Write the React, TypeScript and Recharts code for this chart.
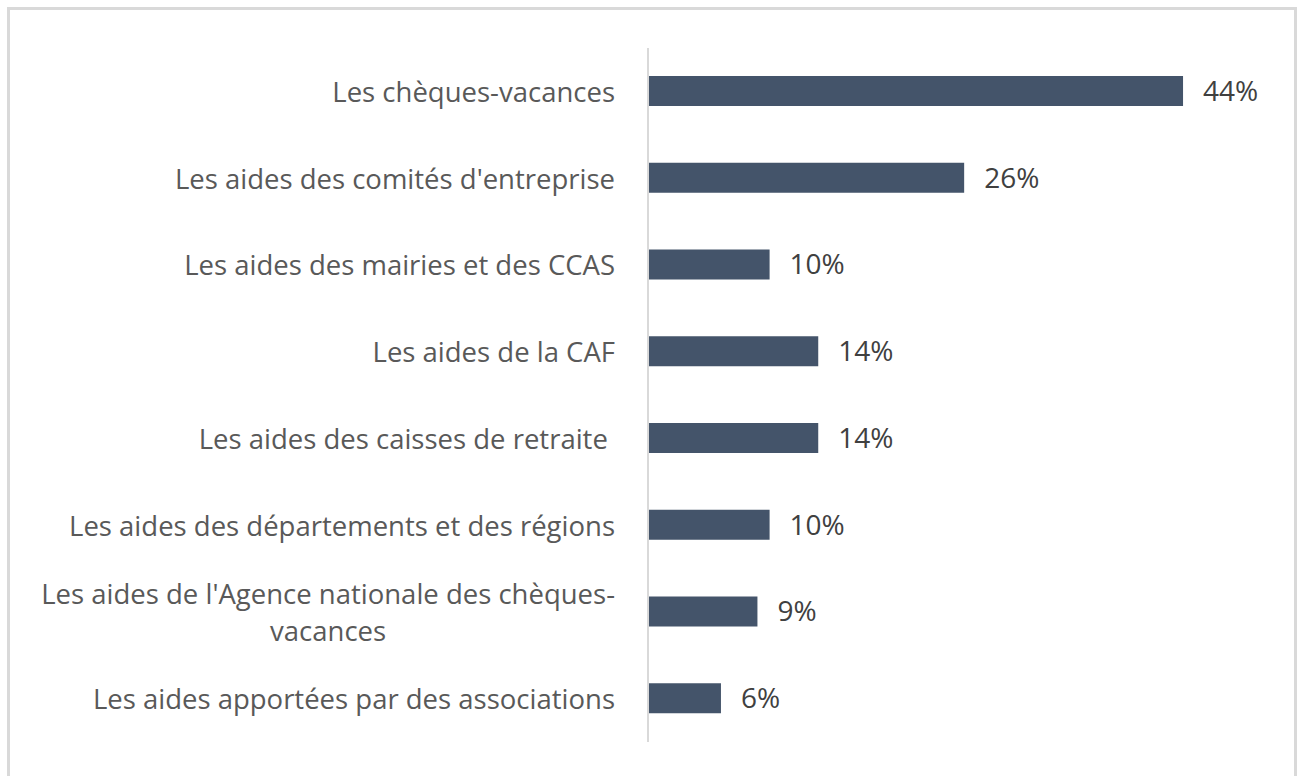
import { BarChart, Bar, XAxis, YAxis, LabelList } from 'recharts';

const categories = [
  'Les chèques-vacances',
  "Les aides des comités d'entreprise",
  'Les aides des mairies et des CCAS',
  'Les aides de la CAF',
  'Les aides des caisses de retraite ',
  'Les aides des départements et des régions',
  "Les aides de l'Agence nationale des chèques-\nvacances",
  'Les aides apportées par des associations',
];

const shares = [44, 26, 10, 14, 14, 10, 9, 6];

const data = categories.map((name, i) => ({ name, value: shares[i] }));

const FONT = '"Open Sans", Lato, sans-serif';

function CategoryTick(props: any) {
  const { x, y, payload } = props;
  const lines = String(payload.value).split('\n');
  const lineHeight = 37;
  return (
    <foreignObject x={x - 640} y={y - 40} width={640} height={80}>
      <div
        style={{
          width: 640,
          height: 80,
          display: 'flex',
          justifyContent: 'flex-end',
          alignItems: 'center',
        }}
      >
        <div
          style={{
            textAlign: 'center',
            fontFamily: FONT,
            fontSize: 27.5,
            lineHeight: `${lineHeight}px`,
            color: '#595959',
            whiteSpace: 'pre',
          }}
        >
          {lines.join('\n')}
        </div>
      </div>
    </foreignObject>
  );
}

export default function App() {
  return (
    <div style={{ position: 'absolute', left: 0, top: 0, width: 1301, height: 776, background: '#fff' }}>
      <div
        style={{
          position: 'absolute',
          left: 7,
          top: 7,
          width: 1284,
          height: 780,
          border: '3px solid #d9d9d9',
          boxSizing: 'content-box',
        }}
      />
      <div style={{ position: 'absolute', left: 0, top: 0 }}>
        <BarChart
          width={1301}
          height={776}
          data={data}
          layout="vertical"
          margin={{ top: 48, right: 45, bottom: 34, left: 0 }}
        >
          <XAxis type="number" domain={[0, 50]} hide />
          <YAxis
            type="category"
            dataKey="name"
            width={648}
            tickLine={false}
            tickSize={0}
            tickMargin={33}
            axisLine={{ stroke: '#d9d9d9', strokeWidth: 2 }}
            tick={<CategoryTick />}
            interval={0}
          />
          <Bar dataKey="value" fill="#44546A" barSize={30} isAnimationActive={false}>
            <LabelList
              dataKey="value"
              position="right"
              offset={20}
              formatter={(v: any) => `${v}%`}
              style={{ fontFamily: FONT, fontSize: 28, fill: '#404040' }}
            />
          </Bar>
        </BarChart>
      </div>
    </div>
  );
}
